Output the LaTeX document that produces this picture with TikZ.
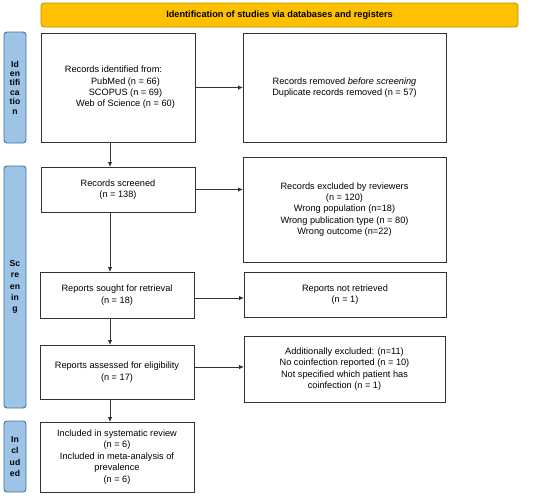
\documentclass[tikz,border=0pt]{standalone}
\usepackage{fontspec}
\setmainfont{Liberation Sans}
\usetikzlibrary{arrows.meta}
\definecolor{bannerfill}{HTML}{FFC000}
\definecolor{bannerdraw}{HTML}{BF9000}
\definecolor{labfill}{HTML}{9DC3E6}
\definecolor{labdraw}{HTML}{41719C}
\definecolor{boxdraw}{HTML}{333333}
\tikzset{
  txt/.style={font=\fontsize{9.2}{11.4}\selectfont, align=center, inner sep=0pt},
  box/.style={draw=boxdraw, line width=0.9pt, fill=white, anchor=north west, inner sep=0pt, outer sep=0pt, txt},
  sidelab/.style={draw=labdraw, line width=0.9pt, fill=labfill, rounded corners=3pt, anchor=north west, inner sep=0pt, outer sep=0pt, align=center, font=\bfseries\fontsize{8.6}{11.4}\selectfont},
  banner/.style={draw=bannerdraw, line width=0.8pt, fill=bannerfill, rounded corners=3pt, anchor=north west, inner sep=0pt, outer sep=0pt, font=\bfseries\fontsize{9.2}{11}\selectfont},
  arr/.style={draw=boxdraw, line width=0.8pt, -{Latex[length=5pt,width=4.5pt]}}
}
\begin{document}
\begin{tikzpicture}[x=1pt,y=-1pt]
\useasboundingbox (0,0) rectangle (550,496);
% banner
\node[banner, minimum width=477pt, minimum height=24pt] (ban) at (41,3) {Identification of studies via databases and registers};
% side labels
\node[sidelab, minimum width=22pt, minimum height=111pt, font=\bfseries\fontsize{8.6}{9.4}\selectfont] (lab1) at (4,32) {Id\\en\\tifi\\ca\\tio\\n};
\node[sidelab, minimum width=22pt, minimum height=242pt] (lab2) at (4,166) {Sc\\re\\en\\in\\g};
\node[sidelab, minimum width=22pt, minimum height=71pt] (lab3) at (4,421) {In\\cl\\ud\\ed};
% left column
\node[box, minimum width=154pt, minimum height=109pt] (b1) at (41,33) {};
\node[txt, anchor=center] (t1) at ([xshift=7.5pt]b1.center) {Records identified from:\hspace*{24pt}\\PubMed (n = 66)\\SCOPUS (n = 69)\\Web of Science (n = 60)};
\node[box, minimum width=154pt, minimum height=45pt] (b2) at (41,167) {Records screened\\(n = 138)};
\node[box, minimum width=154pt, minimum height=46pt] (b3) at (40,272) {Reports sought for retrieval\\(n = 18)};
\node[box, minimum width=154pt, minimum height=54pt] (b4) at (40,345) {Reports assessed for eligibility\\(n = 17)};
\node[box, minimum width=154pt, minimum height=70pt] (b5) at (40,422) {Included in systematic review\\(n = 6)\\Included in meta-analysis of\\prevalence\\(n = 6)};
% right column
\node[box, minimum width=203pt, minimum height=109pt] (r1) at (243,33) {Records removed \textit{before screening}\\Duplicate records removed (n = 57)};
\node[box, minimum width=203pt, minimum height=105pt] (r2) at (243,157) {Records excluded by reviewers\\(n = 120)\\Wrong population (n=18)\\Wrong publication type (n = 80)\\Wrong outcome (n=22)};
\node[box, minimum width=202pt, minimum height=45pt] (r3) at (244,272) {Reports not retrieved\\(n = 1)};
\node[box, minimum width=201pt, minimum height=66pt] (r4) at (244,336) {Additionally excluded: (n=11)\\No coinfection reported (n = 10)\\Not specified which patient has\\coinfection (n = 1)};
% vertical arrows
\coordinate (vx) at (110,0);
\draw[arr] (b1.south -| vx) -- (b2.north -| vx);
\draw[arr] (b2.south -| vx) -- (b3.north -| vx);
\draw[arr] (b3.south -| vx) -- (b4.north -| vx);
\draw[arr] (b4.south -| vx) -- (b5.north -| vx);
% horizontal arrows
\draw[arr] (b1.east) -- (b1.east -| r1.west);
\draw[arr] (b2.east) -- (b2.east -| r2.west);
\draw[arr] ([yshift=-3pt]b3.east) -- ([yshift=-3pt]b3.east -| r3.west);
\draw[arr] ([yshift=5pt]b4.east) -- ([yshift=5pt]b4.east -| r4.west);
\end{tikzpicture}
\end{document}
